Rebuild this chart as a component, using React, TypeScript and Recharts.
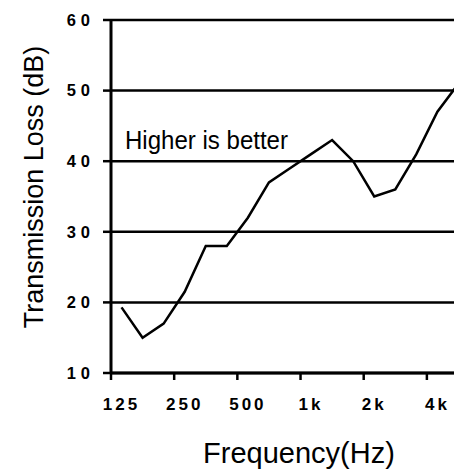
import React from 'react';
import { LineChart, Line, XAxis, YAxis, CartesianGrid, Customized } from 'recharts';

// third-octave bands, 125 Hz .. 5 kHz
const bands = ['125', '160', '200', '250', '315', '400', '500', '630', '800', '1k', '1.25k', '1.6k', '2k', '2.5k', '3.15k', '4k', '5k'];
const lossDb = [19.3, 15, 17, 21.5, 28, 28, 32, 37, 39, 41, 43, 40, 35, 36, 41, 47, 51];
// tick marks sit on the band edges, labels on the band centre just right of them
const tickMarks = [-0.5, 2.5, 5.5, 8.5, 11.5, 14.5];
const yTicks = [10, 20, 30, 40, 50, 60];

const data = bands.map((b, i) => ({ i, band: b, loss: lossDb[i] }));

const FONT = '"Liberation Sans", Arial, sans-serif';

const XTick = ({ x, y, width, payload }: any) => {
  const half = (width || 358) / bands.length / 2;
  return (
    <text x={x + half} y={y} dy="0.71em" textAnchor="middle" fontFamily={FONT} fontSize={17}
      fontWeight="bold" letterSpacing={3} fill="#000">
      {bands[payload.value + 0.5]}
    </text>
  );
};

const YTick = ({ x, y, payload }: any) => (
  <text x={x} y={y} dy="0.355em" textAnchor="end" fontFamily={FONT} fontSize={16.5}
    fontWeight="bold" letterSpacing={5} fill="#000">
    {payload.value}
  </text>
);

const Titles = () => (
  <g fontFamily={FONT} fill="#000">
    <text transform="translate(43,187) rotate(-90)" textAnchor="middle" fontSize={27}>
      Transmission Loss (dB)
    </text>
    <text x={299} y={463} textAnchor="middle" fontSize={29}>Frequency(Hz)</text>
    <text x={125} y={149} fontSize={26} textLength={163} lengthAdjust="spacingAndGlyphs">
      Higher is better
    </text>
  </g>
);

export default function App() {
  return (
    <div style={{ position: 'absolute', left: 0, top: 0, width: 454, height: 469, overflow: 'hidden', background: '#fff' }}>
      <LineChart width={480} height={469} data={data}
        margin={{ top: 20, right: 11, bottom: 66, left: 0 }}>
        <CartesianGrid horizontal vertical={false} stroke="#000" strokeWidth={2.5} />
        <XAxis type="number" dataKey="i" domain={[-0.5, 16.5]} ticks={tickMarks} height={30}
          tickSize={7} tickMargin={18} tick={<XTick />} interval={0}
          axisLine={{ stroke: '#000', strokeWidth: 3 }} tickLine={{ stroke: '#000', strokeWidth: 2.5 }} />
        <YAxis type="number" domain={[10, 60]} ticks={yTicks} width={111} tickSize={8} tickMargin={8}
          axisLine={{ stroke: '#000', strokeWidth: 3 }} tickLine={{ stroke: '#000', strokeWidth: 2.5 }}
          tick={<YTick />} interval={0} />
        <Line dataKey="loss" type="linear" stroke="#000" strokeWidth={2.5} dot={false}
          isAnimationActive={false} />
        <Customized component={Titles} />
      </LineChart>
    </div>
  );
}
